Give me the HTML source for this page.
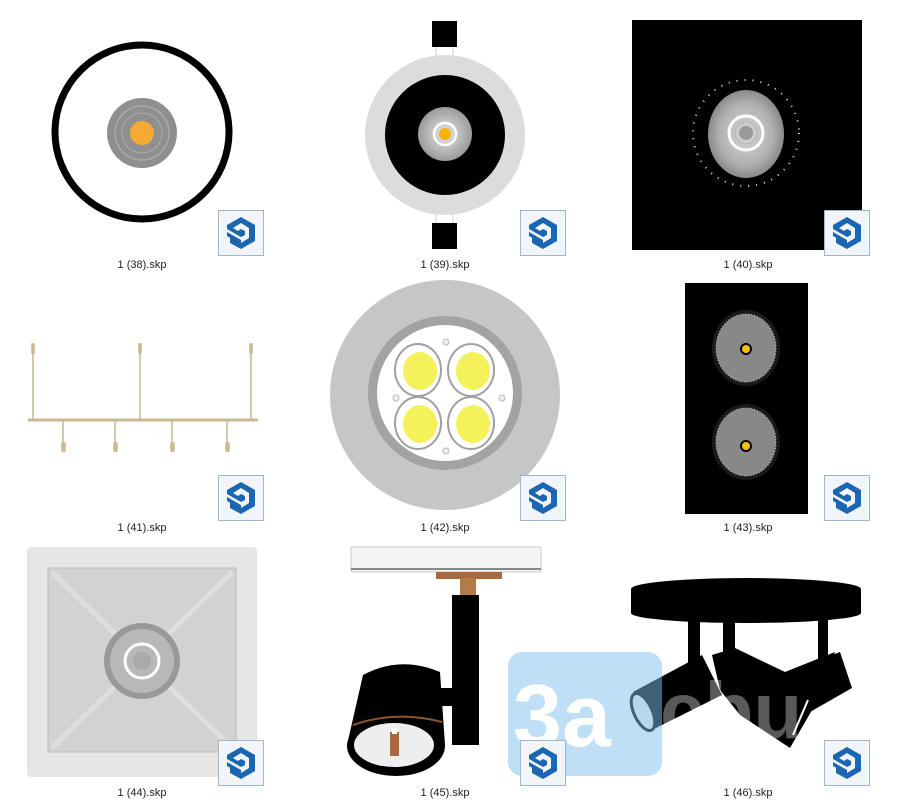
<!DOCTYPE html>
<html><head><meta charset="utf-8"><style>
html,body{margin:0;padding:0;background:#fff;}
svg{display:block}
text{font-family:"Liberation Sans",sans-serif;font-size:11px;fill:#222}
</style></head><body>
<svg width="900" height="806" viewBox="0 0 900 806" xmlns="http://www.w3.org/2000/svg">
<defs>
<g id="ic">
<rect x="0.5" y="0.5" width="45" height="45" fill="#f1f4f8" stroke="#9fb6cc"/>
<path d="M23 7 L37 15 L37 31 L23 39 L12 33 L12 27 L23 33 L31 28 L31 18 L23 13 L15 18 L20 21 L23 19 L27 21 L27 25 L23 27 L9 19 L9 15 Z" fill="#1b66b0"/>
<path d="M9 22 L23 30 L23 34 L9 26 Z" fill="#1b66b0"/>
</g>
<radialGradient id="g1"><stop offset="0" stop-color="#e8e8e8"/><stop offset="1" stop-color="#9a9a9a"/></radialGradient>
<radialGradient id="g2"><stop offset="0" stop-color="#d8d8d8"/><stop offset="0.7" stop-color="#b0b0b0"/><stop offset="1" stop-color="#8a8a8a"/></radialGradient>
</defs>

<!-- cell 1 -->
<circle cx="142" cy="132" r="87" fill="none" stroke="#000" stroke-width="7"/>
<circle cx="142" cy="133" r="35" fill="#8f8f8f"/>
<circle cx="142" cy="133" r="27" fill="none" stroke="#aaa" stroke-width="1.5"/>
<circle cx="142" cy="133" r="20" fill="none" stroke="#aaa" stroke-width="1"/>
<circle cx="142" cy="133" r="12" fill="#f6aa35"/>

<!-- cell 2 -->
<rect x="432" y="21" width="25" height="26" fill="#000"/>
<rect x="432" y="223" width="25" height="26" fill="#000"/>
<line x1="436" y1="47" x2="436" y2="57" stroke="#ccc"/><line x1="453" y1="47" x2="453" y2="57" stroke="#ccc"/>
<line x1="436" y1="213" x2="436" y2="223" stroke="#ccc"/><line x1="453" y1="213" x2="453" y2="223" stroke="#ccc"/>
<circle cx="445" cy="135" r="80" fill="#dcdcdc"/>
<circle cx="445" cy="135" r="60" fill="#000"/>
<circle cx="445" cy="134" r="27" fill="url(#g1)"/>
<circle cx="445" cy="134" r="11" fill="none" stroke="#fff" stroke-width="2.5"/>
<circle cx="445" cy="134" r="6" fill="#f5b400"/>

<!-- cell 3 -->
<rect x="632" y="20" width="230" height="230" fill="#000"/>
<circle cx="746" cy="133" r="53" fill="none" stroke="#ddd" stroke-width="2" stroke-dasharray="1 7"/>
<ellipse cx="746" cy="134" rx="38" ry="44" fill="url(#g2)"/>
<circle cx="746" cy="133" r="17" fill="none" stroke="#fff" stroke-width="3"/>
<circle cx="746" cy="133" r="11" fill="none" stroke="#bbb" stroke-width="1.5"/>
<circle cx="746" cy="133" r="7" fill="#999"/>

<!-- cell 4 -->
<g stroke="#c9b992" stroke-width="1.5" fill="#c9b992">
<line x1="28" y1="420" x2="258" y2="420" stroke-width="3"/>
<line x1="33" y1="345" x2="33" y2="420"/><line x1="140" y1="345" x2="140" y2="420"/><line x1="251" y1="345" x2="251" y2="420"/>
<line x1="63" y1="420" x2="63" y2="445"/><line x1="115" y1="420" x2="115" y2="445"/><line x1="172" y1="420" x2="172" y2="445"/><line x1="227" y1="420" x2="227" y2="445"/>
<rect x="32" y="344" width="2" height="9"/><rect x="139" y="344" width="2" height="9"/><rect x="250" y="344" width="2" height="9"/>
<rect x="62" y="443" width="3" height="8"/><rect x="114" y="443" width="3" height="8"/><rect x="171" y="443" width="3" height="8"/><rect x="226" y="443" width="3" height="8"/>
</g>

<!-- cell 5 -->
<circle cx="445" cy="395" r="115" fill="#c6c6c6"/>
<circle cx="445" cy="393" r="77" fill="#a3a3a3"/>
<circle cx="445" cy="393" r="68" fill="#fff"/>
<g stroke="#a0a0a0" stroke-width="2" fill="#fff">
<ellipse cx="418" cy="370" rx="23" ry="26"/><ellipse cx="471" cy="370" rx="23" ry="26"/>
<ellipse cx="418" cy="423" rx="23" ry="26"/><ellipse cx="471" cy="423" rx="23" ry="26"/>
</g>
<g fill="#f4f25a">
<ellipse cx="420" cy="371" rx="17" ry="19"/><ellipse cx="473" cy="371" rx="17" ry="19"/>
<ellipse cx="420" cy="424" rx="17" ry="19"/><ellipse cx="473" cy="424" rx="17" ry="19"/>
</g>
<g fill="#eee" stroke="#bbb"><circle cx="446" cy="342" r="3"/><circle cx="446" cy="451" r="3"/><circle cx="396" cy="398" r="3"/><circle cx="502" cy="398" r="3"/></g>

<!-- cell 6 -->
<rect x="685" y="283" width="123" height="231" fill="#000"/>
<ellipse cx="746" cy="348" rx="34" ry="38" fill="#1a1a1a"/>
<ellipse cx="746" cy="348" rx="30" ry="34" fill="#888"/>
<ellipse cx="746" cy="348" rx="30" ry="34" fill="none" stroke="#ccc" stroke-width="1" stroke-dasharray="1 2"/>
<circle cx="746" cy="349" r="6" fill="#000"/><circle cx="746" cy="349" r="4" fill="#f5c000"/>
<ellipse cx="746" cy="442" rx="34" ry="38" fill="#1a1a1a"/>
<ellipse cx="746" cy="442" rx="30" ry="34" fill="#888"/>
<ellipse cx="746" cy="442" rx="30" ry="34" fill="none" stroke="#ccc" stroke-width="1" stroke-dasharray="1 2"/>
<circle cx="746" cy="446" r="6" fill="#000"/><circle cx="746" cy="446" r="4" fill="#f5c000"/>

<!-- cell 7 -->
<rect x="27" y="547" width="230" height="230" rx="4" fill="#e6e6e6"/>
<rect x="48" y="568" width="188" height="184" fill="#d2d2d2" stroke="#bbb"/>
<g stroke="#e6e6e6" stroke-width="5" opacity="0.6"><line x1="52" y1="572" x2="232" y2="748"/><line x1="232" y1="572" x2="52" y2="748"/></g>
<circle cx="142" cy="661" r="38" fill="#999"/>
<circle cx="142" cy="661" r="32" fill="#b8b8b8"/>
<circle cx="142" cy="661" r="17" fill="none" stroke="#fff" stroke-width="3"/>
<circle cx="142" cy="661" r="9" fill="#aaa"/>

<!-- cell 8 -->
<rect x="351" y="547" width="190" height="25" fill="#f4f4f4" stroke="#ccc"/>
<line x1="351" y1="569" x2="541" y2="569" stroke="#888" stroke-width="2"/>
<rect x="436" y="572" width="66" height="7" fill="#a86a3c"/>
<rect x="460" y="578" width="16" height="18" fill="#b57a4a"/>
<rect x="452" y="595" width="27" height="150" fill="#000"/>
<rect x="436" y="688" width="20" height="18" fill="#000"/>
<path d="M363 675 Q400 655 440 672 L445 745 L347 745 Z" fill="#000"/>
<ellipse cx="396" cy="746" rx="49" ry="30" fill="#000"/>
<path d="M353 725 Q396 710 442 722" stroke="#8a5530" stroke-width="2" fill="none"/>
<ellipse cx="394" cy="745" rx="40" ry="22" fill="#eee"/>
<rect x="390" y="732" width="9" height="24" fill="#a86a3c"/>
<rect x="392" y="728" width="5" height="6" fill="#fff"/>

<!-- cell 9 -->
<ellipse cx="746" cy="589" rx="115" ry="11" fill="#000"/>
<rect x="631" y="589" width="230" height="24" fill="#000"/>
<ellipse cx="746" cy="613" rx="115" ry="10" fill="#000"/>
<rect x="688" y="620" width="12" height="45" fill="#000"/><rect x="723" y="620" width="12" height="40" fill="#000"/><rect x="818" y="620" width="10" height="45" fill="#000"/>
<path d="M633 692 L702 655 L722 695 L652 730 Z" fill="#000"/>
<ellipse cx="643" cy="712" rx="9" ry="20" transform="rotate(-25 643 712)" fill="#eee" stroke="#000" stroke-width="3"/>
<path d="M712 655 L735 648 L785 672 L835 652 L815 705 L790 748 L740 715 L720 690 Z" fill="#000"/>
<path d="M805 665 L840 652 L852 688 L810 712 Z" fill="#000"/>
<path d="M808 700 L793 735" stroke="#fff" stroke-width="2"/>

<!-- watermark -->
<rect x="508" y="652" width="154" height="124" rx="14" fill="#7fbff0" opacity="0.5"/>
<text x="513" y="746" style="font-size:88px;font-weight:bold;fill:#fff">3a</text>
<text x="660" y="738" style="font-size:80px;font-weight:bold;fill:#fff" opacity="0.35">cbu</text>

<!-- icons -->
<use href="#ic" x="218" y="210"/><use href="#ic" x="520" y="210"/><use href="#ic" x="824" y="210"/>
<use href="#ic" x="218" y="475"/><use href="#ic" x="520" y="475"/><use href="#ic" x="824" y="475"/>
<use href="#ic" x="218" y="740"/><use href="#ic" x="520" y="740"/><use href="#ic" x="824" y="740"/>

<!-- labels -->
<g text-anchor="middle">
<text x="142" y="268">1 (38).skp</text><text x="445" y="268">1 (39).skp</text><text x="748" y="268">1 (40).skp</text>
<text x="142" y="531">1 (41).skp</text><text x="445" y="531">1 (42).skp</text><text x="748" y="531">1 (43).skp</text>
<text x="142" y="796">1 (44).skp</text><text x="445" y="796">1 (45).skp</text><text x="748" y="796">1 (46).skp</text>
</g>
</svg>
</body></html>
